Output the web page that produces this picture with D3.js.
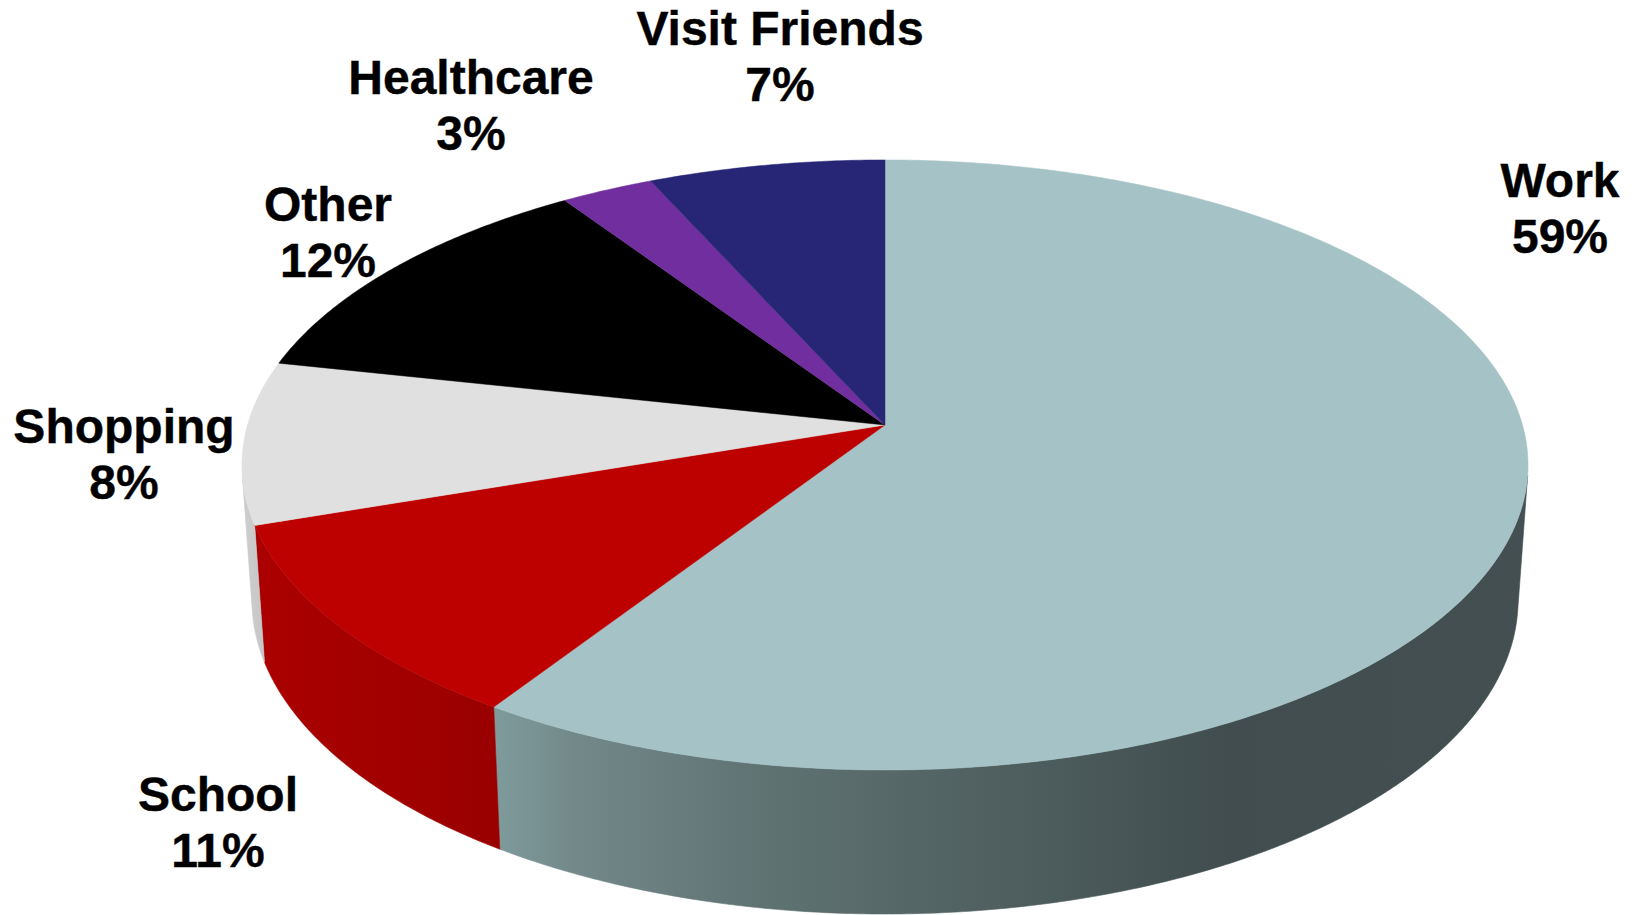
<!DOCTYPE html>
<html>
<head>
<meta charset="utf-8">
<script src="https://cdn.jsdelivr.net/npm/d3@7/dist/d3.min.js"></script>
<style>
html,body{margin:0;padding:0;background:#fff;overflow:hidden}
svg{display:block}
text{font-family:"Liberation Sans",Arial,sans-serif;font-weight:700;font-size:48px;fill:#000;stroke:#000;stroke-width:0.4px;text-anchor:middle}
</style>
</head>
<body>
<svg id="chart" width="1637" height="915"></svg>
<script>
// Data, clockwise from 12 o'clock
const categories = ["Work", "School", "Shopping", "Other", "Healthcare", "Visit Friends"];
const shares = [59.2, 10.6, 8.6, 12.2, 2.65, 6.75];
const shareLabels = ["59%", "11%", "8%", "12%", "3%", "7%"];
const topColors = ["#a5c3c6", "#bd0000", "#e0e0e0", "#000000", "#702e9e", "#272575"];
const wallShades = [
  [[493, "#7f9b9c"], [578, "#728889"], [767, "#5f7272"], [1054, "#4c5b5b"], [1226, "#414d4f"], [1530, "#434f51"]],
  [[255, "#ab0000"], [400, "#a10000"], [500, "#990000"]],
  [[240, "#cfcfcf"], [270, "#c4c4c4"]],
  [[0, "#000000"], [1, "#000000"]],
  [[0, "#5a2580"], [1, "#5a2580"]],
  [[0, "#1f1e5e"], [1, "#1f1e5e"]]
];
const labelAnchors = [[1560, 197], [218, 811], [124, 443], [328, 221], [471, 94], [780, 45]];

const LINE_GAP = 56;
const CX = 885;
const TILT = -0.131;
const topPlane = {a: 637.5, b: 299.8, cy: 425};
const basePlane = {a: 627.6, b: 308.6, cy: 558.9};

const svg = d3.select("#chart");
const defs = svg.append("defs");

function project(plane, theta) {
  const ux = Math.sin(theta), uy = -Math.cos(theta);
  const den = 1 + TILT * uy;
  return [CX + plane.a * ux / den, plane.cy + plane.b * uy / den];
}
const lineGen = d3.line();
const STEP = Math.PI / 360;
function thetas(a0, a1) {
  const n = Math.max(2, Math.ceil(Math.abs(a1 - a0) / STEP));
  return d3.range(n + 1).map(i => a0 + (a1 - a0) * i / n);
}

// silhouette angles where the rim lines are tangent to the outline
function crossAt(th) {
  const e = 1e-3;
  const p0 = project(topPlane, th - e), p1 = project(topPlane, th + e);
  const t = project(topPlane, th), b = project(basePlane, th);
  return (p1[0] - p0[0]) * (b[1] - t[1]) - (p1[1] - p0[1]) * (b[0] - t[0]);
}
function findSilhouette(lo, hi) {
  const grid = thetas(lo, hi);
  return d3.least(grid, th => Math.abs(crossAt(th)));
}
const silRight = findSilhouette(Math.PI * 0.25, Math.PI * 0.75);
const silLeft = findSilhouette(Math.PI * 1.25, Math.PI * 1.75);

const arcs = d3.pie().sort(null).value(d => d)(shares);

// gradients for the side walls
arcs.forEach((d, i) => {
  const stops = wallShades[i];
  const g = defs.append("linearGradient")
    .attr("id", "wall" + i)
    .attr("gradientUnits", "userSpaceOnUse")
    .attr("x1", stops[0][0]).attr("x2", stops[stops.length - 1][0])
    .attr("y1", 0).attr("y2", 0);
  const offset = d3.scaleLinear().domain([stops[0][0], stops[stops.length - 1][0]]).range([0, 1]);
  g.selectAll("stop").data(stops).join("stop")
    .attr("offset", s => offset(s[0]))
    .attr("stop-color", s => s[1]);
});

// side walls, only the part between the two silhouette angles
const gWalls = svg.append("g");
arcs.forEach((d, i) => {
  const a0 = Math.max(d.startAngle, silRight);
  const a1 = Math.min(d.endAngle, silLeft);
  if (a1 <= a0) return;
  const ts = thetas(a0, a1);
  const pts = ts.map(t => project(topPlane, t))
    .concat(ts.slice().reverse().map(t => project(basePlane, t)));
  gWalls.append("path")
    .attr("d", lineGen(pts) + "Z")
    .attr("fill", "url(#wall" + i + ")")
    .attr("stroke", "url(#wall" + i + ")")
    .attr("stroke-width", 0.6);
});

// top faces
const gTop = svg.append("g");
const apex = [CX, topPlane.cy];
gTop.selectAll("path").data(arcs).join("path")
  .attr("d", d => {
    const pts = thetas(d.startAngle, d.endAngle).map(t => project(topPlane, t));
    return lineGen([apex].concat(pts)) + "Z";
  })
  .attr("fill", (d, i) => topColors[i])
  .attr("stroke", (d, i) => topColors[i])
  .attr("stroke-width", 0.5);

// labels
const gLabels = svg.append("g");
categories.forEach((c, i) => {
  const [x, y] = labelAnchors[i];
  gLabels.append("text").attr("x", x).attr("y", y).text(c);
  gLabels.append("text").attr("x", x).attr("y", y + LINE_GAP).text(shareLabels[i]);
});
</script>
</body>
</html>
